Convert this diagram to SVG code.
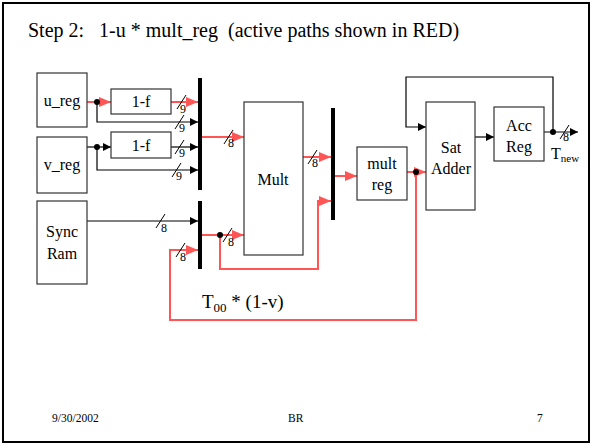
<svg xmlns="http://www.w3.org/2000/svg" width="592" height="446" viewBox="0 0 592 446">
<style>
text{font-family:"Liberation Serif","Times New Roman",serif;fill:#000}
.box{fill:#fff;stroke:#333;stroke-width:1.2}
.lbl{font-size:16px;text-anchor:middle}
.blk{fill:none;stroke:#000;stroke-width:1.2}
.red{fill:none;stroke:#ff5555;stroke-width:2}
.bus{stroke:#000;stroke-width:4}
.sl{stroke:#000;stroke-width:1}
.w{font-size:12px}
.foot{font-size:11.5px}
</style>
<defs>
<marker id="ab" markerUnits="userSpaceOnUse" markerWidth="10" markerHeight="10" refX="8" refY="4" orient="auto"><path d="M0,0 L8,4 L0,8 Z" fill="#000"/></marker>
<marker id="ar" markerUnits="userSpaceOnUse" markerWidth="14" markerHeight="12" refX="12" refY="5" orient="auto"><path d="M0,0 L12,5 L0,10 Z" fill="#ff5555"/></marker>
</defs>
<rect x="3" y="3" width="586" height="439" fill="#fff" stroke="#000" stroke-width="2"/>
<text x="28" y="37" font-size="20" xml:space="preserve">Step 2:   1-u * mult_reg  (active paths shown in RED)</text>

<g id="connectors">
<path class="red" d="M87,102 H111" marker-end="url(#ar)"/>
<path class="red" d="M171,102 H198" marker-end="url(#ar)"/>
<path class="blk" d="M97,102 V122 H198" marker-end="url(#ab)"/>
<path class="blk" d="M87,147 H111" marker-end="url(#ab)"/>
<path class="blk" d="M171,147 H198" marker-end="url(#ab)"/>
<path class="blk" d="M97,147 V170 H198" marker-end="url(#ab)"/>
<path class="blk" d="M87,221 H198" marker-end="url(#ab)"/>
<path class="red" d="M202,137 H244" marker-end="url(#ar)"/>
<path class="red" d="M202,235 H244" marker-end="url(#ar)"/>
<path class="red" d="M220,235 V269 H318 V201 H331" marker-end="url(#ar)"/>
<path class="red" d="M303,157 H331" marker-end="url(#ar)"/>
<path class="red" d="M335,176 H357" marker-end="url(#ar)"/>
<path class="red" d="M407,172 H426" marker-end="url(#ar)"/>
<path class="red" d="M416,172 V320 H170 V250 H198" marker-end="url(#ar)"/>
<path class="blk" d="M475,137 H494" marker-end="url(#ab)"/>
<path class="blk" d="M544,132 H578" marker-end="url(#ab)"/>
<path class="blk" d="M553,132 V77 H406 V127 H426" marker-end="url(#ab)"/>
<line class="bus" x1="200" y1="78" x2="200" y2="190"/>
<line class="bus" x1="200" y1="201" x2="200" y2="269"/>
<line class="bus" x1="333" y1="108" x2="333" y2="220"/>
<circle cx="97" cy="102" r="3"/>
<circle cx="97" cy="147" r="3"/>
<circle cx="220" cy="235" r="3"/>
<circle cx="416" cy="172" r="3"/>
<circle cx="553" cy="132" r="3"/>
<g>
<line class="sl" x1="177" y1="109" x2="186" y2="95"/><text class="w" x="180" y="113">9</text>
<line class="sl" x1="175" y1="129" x2="184" y2="115"/><text class="w" x="179" y="132">9</text>
<line class="sl" x1="175" y1="154" x2="184" y2="140"/><text class="w" x="179" y="157">9</text>
<line class="sl" x1="172" y1="177" x2="181" y2="163"/><text class="w" x="176" y="180">9</text>
<line class="sl" x1="156" y1="228" x2="165" y2="214"/><text class="w" x="161" y="232">8</text>
<line class="sl" x1="176" y1="257" x2="185" y2="243"/><text class="w" x="180" y="261">8</text>
<line class="sl" x1="224" y1="144" x2="233" y2="130"/><text class="w" x="228" y="147">8</text>
<line class="sl" x1="223" y1="242" x2="232" y2="228"/><text class="w" x="228" y="246">8</text>
<line class="sl" x1="308" y1="164" x2="317" y2="150"/><text class="w" x="312" y="167">8</text>
<line class="sl" x1="560" y1="139" x2="569" y2="125"/><text class="w" x="563" y="141">8</text>
</g>
</g>

<g id="u_reg"><rect class="box" x="37" y="73" width="50" height="54"/><text class="lbl" x="62" y="106">u_reg</text></g>
<g id="v_reg"><rect class="box" x="37" y="137" width="50" height="56"/><text class="lbl" x="62" y="170">v_reg</text></g>
<g id="sync_ram"><rect class="box" x="37" y="201" width="50" height="83"/><text class="lbl" x="62" y="237">Sync</text><text class="lbl" x="62" y="259">Ram</text></g>
<g id="f1"><rect class="box" x="111" y="89" width="60" height="25"/><text class="lbl" x="141" y="107">1-f</text></g>
<g id="f2"><rect class="box" x="111" y="132" width="60" height="26"/><text class="lbl" x="141" y="151">1-f</text></g>
<g id="mult"><rect class="box" x="244" y="102" width="59" height="153"/><text class="lbl" x="273" y="185">Mult</text></g>
<g id="mult_reg"><rect class="box" x="357" y="147" width="50" height="53"/><text class="lbl" x="382" y="169">mult</text><text class="lbl" x="382" y="190">reg</text></g>
<g id="sat_adder"><rect class="box" x="426" y="102" width="49" height="108"/><text class="lbl" x="451" y="153">Sat</text><text class="lbl" x="451" y="174">Adder</text></g>
<g id="acc_reg"><rect class="box" x="494" y="107" width="50" height="54"/><text class="lbl" x="519" y="131">Acc</text><text class="lbl" x="519" y="152">Reg</text></g>

<text x="551" y="159" font-size="16">T<tspan font-size="11" dy="3">new</tspan></text>
<text x="202" y="308" font-size="19">T<tspan font-size="13" dy="4">00</tspan><tspan dy="-4"> * (1-v)</tspan></text>

<text class="foot" x="52" y="422">9/30/2002</text>
<text class="foot" x="288" y="422">BR</text>
<text class="foot" x="537" y="422">7</text>
</svg>
